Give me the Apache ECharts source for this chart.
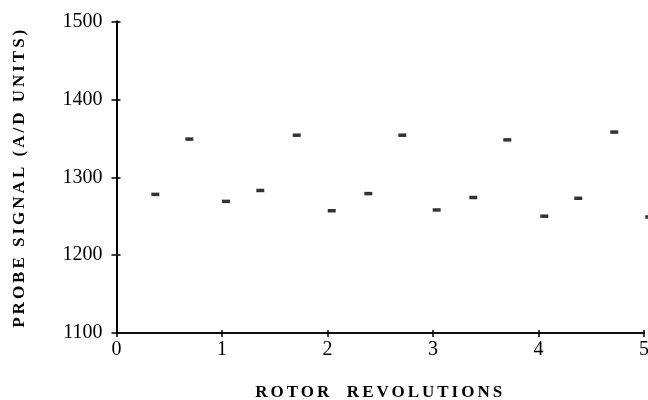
<!DOCTYPE html>
<html>
<head>
<meta charset="utf-8">
<script src="https://cdn.jsdelivr.net/npm/echarts@6/dist/echarts.min.js"></script>
<style>
html,body{margin:0;padding:0;background:#fff;overflow:hidden;}
#c{width:648px;height:400px;}
</style>
</head>
<body>
<div id="c"></div>
<script>
const revolutions = [0.368, 0.69, 1.038, 1.363, 1.708, 2.04, 2.387, 2.709, 3.035, 3.382, 3.704, 4.055, 4.377, 4.718, 5.05];
const probeSignal = [1278, 1349, 1269, 1283, 1354, 1257, 1279, 1354, 1258, 1274, 1348, 1250, 1273, 1358, 1249];
const xTicks = [0, 1, 2, 3, 4, 5];
const yTicks = [1100, 1200, 1300, 1400, 1500];
const xTitle = 'ROTOR  REVOLUTIONS';
const yTitle = 'PROBE SIGNAL (A/D UNITS)';

// letter-spaced bold axis titles (as in the typeset original)
(function () {
  const proto = CanvasRenderingContext2D.prototype;
  const origFill = proto.fillText;
  proto.fillText = function (t, x, y, m) {
    this.letterSpacing = (t === xTitle || t === yTitle) ? '3px' : '0px';
    const r = m === undefined ? origFill.call(this, t, x, y) : origFill.call(this, t, x, y, m);
    this.letterSpacing = '0px';
    return r;
  };
})();

const font = '"Liberation Serif", "Times New Roman", serif';
const chart = echarts.init(document.getElementById('c'), null, {renderer: 'canvas'});
const gridBox = {left: 116.5, right: 4, top: 21.5, bottom: 67, outerBoundsMode: 'none', containLabel: false};
const baseX = {
  type: 'value', min: xTicks[0], max: xTicks[xTicks.length - 1], interval: 1,
  splitLine: {show: false},
  axisLine: {lineStyle: {color: '#000', width: 1.6}},
};
const baseY = {
  type: 'value', min: yTicks[0], max: yTicks[yTicks.length - 1], interval: 100,
  splitLine: {show: false},
  axisLine: {lineStyle: {color: '#000', width: 2}},
};
chart.setOption({
  backgroundColor: '#fff',
  animation: false,
  grid: [Object.assign({}, gridBox), Object.assign({}, gridBox)],
  xAxis: [
    Object.assign({}, baseX, {
      gridIndex: 0,
      axisTick: {show: true, length: 4, lineStyle: {color: '#000', width: 1.5}},
      axisLabel: {color: '#000', fontFamily: font, fontSize: 20, margin: 7, formatter: v => String(v)},
      name: xTitle, nameLocation: 'middle', nameGap: 51,
      nameTextStyle: {color: '#000', fontFamily: font, fontSize: 17, fontWeight: 'bold'}
    }),
    Object.assign({}, baseX, {
      gridIndex: 1,
      axisTick: {show: true, inside: true, length: 3, lineStyle: {color: '#000', width: 1.5}},
      axisLabel: {show: false}
    })
  ],
  yAxis: [
    Object.assign({}, baseY, {
      gridIndex: 0,
      axisTick: {show: true, length: 5, lineStyle: {color: '#000', width: 1.5}},
      axisLabel: {color: '#000', fontFamily: font, fontSize: 20, margin: 14, formatter: v => String(v)},
      name: yTitle, nameLocation: 'middle', nameGap: 88, nameRotate: 90,
      nameTextStyle: {color: '#000', fontFamily: font, fontSize: 17, fontWeight: 'bold'}
    }),
    Object.assign({}, baseY, {
      gridIndex: 1,
      axisTick: {show: true, inside: true, length: 4, lineStyle: {color: '#000', width: 1.5}},
      axisLabel: {show: false}
    })
  ],
  series: [{
    type: 'scatter',
    xAxisIndex: 0, yAxisIndex: 0,
    clip: false,
    symbol: 'rect',
    symbolSize: [8, 3.5],
    itemStyle: {color: '#000'},
    data: revolutions.map((x, i) => [x, probeSignal[i]])
  }]
});
</script>
</body>
</html>
